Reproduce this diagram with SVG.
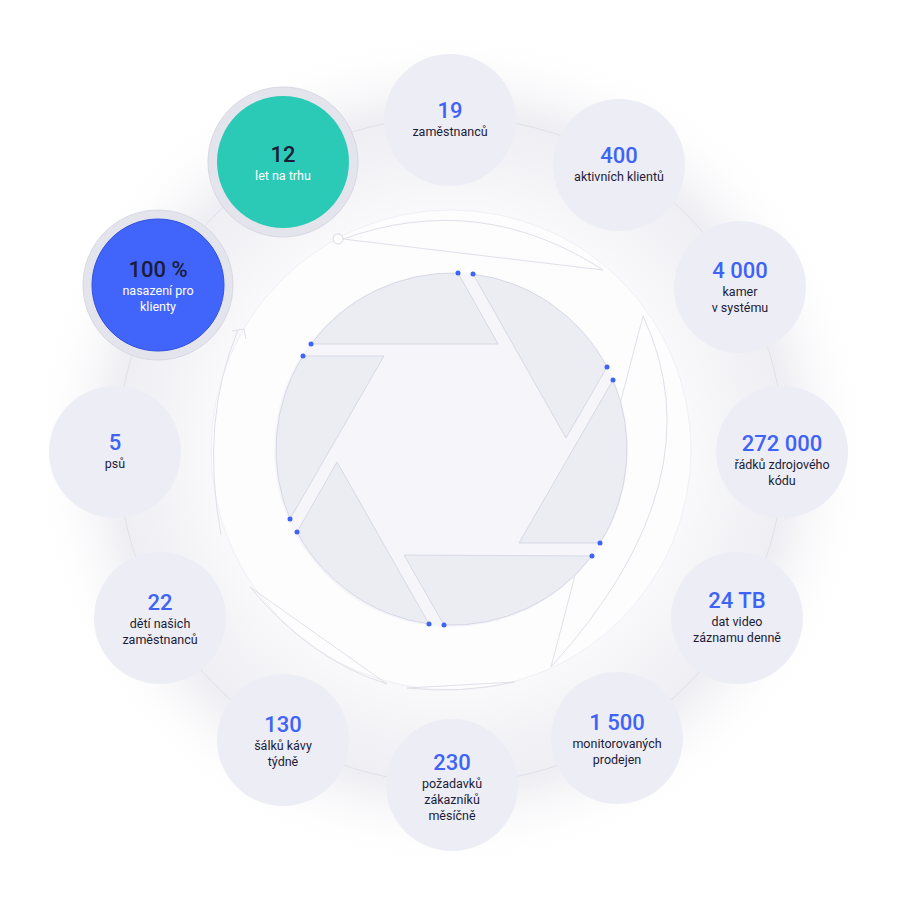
<svg xmlns="http://www.w3.org/2000/svg" width="908" height="913" viewBox="0 0 908 913">
<defs>
<radialGradient id="halo" cx="451" cy="450" r="420" gradientUnits="userSpaceOnUse">
<stop offset="0" stop-color="#ffffff"/><stop offset="0.55" stop-color="#fafafc"/><stop offset="0.8" stop-color="#eeeef3"/><stop offset="1" stop-color="#ffffff" stop-opacity="0"/>
</radialGradient>
<style>
.b{fill:#ededf5}
.n{font-family:Roboto,"Liberation Sans",sans-serif;font-size:22px;fill:#3e63f6;text-anchor:middle;font-weight:500}
.l{font-family:Roboto,"Liberation Sans",sans-serif;font-size:12.5px;fill:#1c1c38;text-anchor:middle}
.blade{fill:#ececf3;stroke:#d8d8e6;stroke-width:1}
.dot{fill:#3e63f6}
.f{fill:none;stroke:#e0e0ea;stroke-width:1}
</style>
</defs>
<rect width="908" height="913" fill="#fff"/>
<circle cx="451" cy="450" r="420" fill="url(#halo)"/>
<g id="connectors">
<circle cx="451" cy="450" r="333" class="f" stroke="#dedee6"/>
<circle cx="451" cy="450" r="240" fill="#fdfdfe" stroke="#f0f0f5"/>
<path class="f" d="M343 239 Q480 190 603 270 L343 239"/>
<circle cx="338" cy="239" r="5" fill="#fff" stroke="#d8d8e2"/>
<path class="f" d="M643 316 Q720 480 551 667 Z"/>
<path class="f" d="M250 587 Q310 660 387 684 Z"/>
<path class="f" d="M407 688 Q460 694 515 682 Z"/>
<path class="f" d="M221 535 Q200 420 238 330 M232 331 L244 329 L246 339"/>
</g>
<g id="aperture">
<circle cx="451" cy="450" r="177" fill="#f6f6fa"/>
<path class="blade" d="M458 273 A177 177 0 0 0 311 344 L498 344 Z"/>
<path class="blade" d="M473 274 A177 177 0 0 1 607 367 L566 438 Z"/>
<path class="blade" d="M613 380 A177 177 0 0 1 600 543 L519 543 Z"/>
<path class="blade" d="M592 556 A177 177 0 0 1 444 625 L404 555 Z"/>
<path class="blade" d="M429 624 A177 177 0 0 1 297 532 L337 462 Z"/>
<path class="blade" d="M290 519 A177 177 0 0 1 303 356 L384 356 Z"/>
<g class="dot">
<circle cx="458" cy="273" r="2.5"/><circle cx="473" cy="274" r="2.5"/>
<circle cx="607" cy="367" r="2.5"/><circle cx="613" cy="380" r="2.5"/>
<circle cx="600" cy="543" r="2.5"/><circle cx="592" cy="556" r="2.5"/>
<circle cx="444" cy="625" r="2.5"/><circle cx="429" cy="624" r="2.5"/>
<circle cx="297" cy="532" r="2.5"/><circle cx="290" cy="519" r="2.5"/>
<circle cx="303" cy="356" r="2.5"/><circle cx="311" cy="344" r="2.5"/>
</g>
</g>
<g id="n12"><circle cx="283" cy="162" r="75" fill="#e4e4ec" stroke="#d8d8e4"/><circle cx="283" cy="162" r="66" fill="#2bcab7"/><text x="283" y="162" class="n" style="fill:#1c1c38">12</text><text x="283" y="180" class="l" style="fill:#fff">let na trhu</text></g>
<g id="n100"><circle cx="158" cy="285" r="75" fill="#e4e4ec" stroke="#d8d8e4"/><circle cx="158" cy="285" r="66" fill="#4165fb" stroke="#3050e0"/><text x="158" y="277" class="n" style="fill:#1c1c38">100 %</text><text x="158" y="295" class="l" style="fill:#fff">nasazení pro</text><text x="158" y="311" class="l" style="fill:#fff">klienty</text></g>
<g id="n19"><circle cx="450" cy="120" r="66" class="b"/><text x="450" y="118" class="n">19</text><text x="450" y="136" class="l">zaměstnanců</text></g>
<g id="n400"><circle cx="619" cy="165" r="66" class="b"/><text x="619" y="163" class="n">400</text><text x="619" y="181" class="l">aktivních klientů</text></g>
<g id="n4000"><circle cx="740" cy="287" r="66" class="b"/><text x="740" y="278" class="n">4 000</text><text x="740" y="296" class="l">kamer</text><text x="740" y="312" class="l">v systému</text></g>
<g id="n272000"><circle cx="782" cy="452" r="66" class="b"/><text x="782" y="451" class="n">272 000</text><text x="782" y="469" class="l">řádků zdrojového</text><text x="782" y="485" class="l">kódu</text></g>
<g id="n24tb"><circle cx="737" cy="618" r="66" class="b"/><text x="737" y="608" class="n">24 TB</text><text x="737" y="626" class="l">dat video</text><text x="737" y="642" class="l">záznamu denně</text></g>
<g id="n1500"><circle cx="617" cy="738" r="66" class="b"/><text x="617" y="730" class="n">1 500</text><text x="617" y="748" class="l">monitorovaných</text><text x="617" y="764" class="l">prodejen</text></g>
<g id="n230"><circle cx="452" cy="785" r="66" class="b"/><text x="452" y="770" class="n">230</text><text x="452" y="788" class="l">požadavků</text><text x="452" y="804" class="l">zákazníků</text><text x="452" y="820" class="l">měsíčně</text></g>
<g id="n130"><circle cx="283" cy="740" r="66" class="b"/><text x="283" y="732" class="n">130</text><text x="283" y="750" class="l">šálků kávy</text><text x="283" y="766" class="l">týdně</text></g>
<g id="n22"><circle cx="160" cy="618" r="66" class="b"/><text x="160" y="610" class="n">22</text><text x="160" y="628" class="l">dětí našich</text><text x="160" y="644" class="l">zaměstnanců</text></g>
<g id="n5"><circle cx="115" cy="452" r="66" class="b"/><text x="115" y="450" class="n">5</text><text x="115" y="468" class="l">psů</text></g>
</svg>
